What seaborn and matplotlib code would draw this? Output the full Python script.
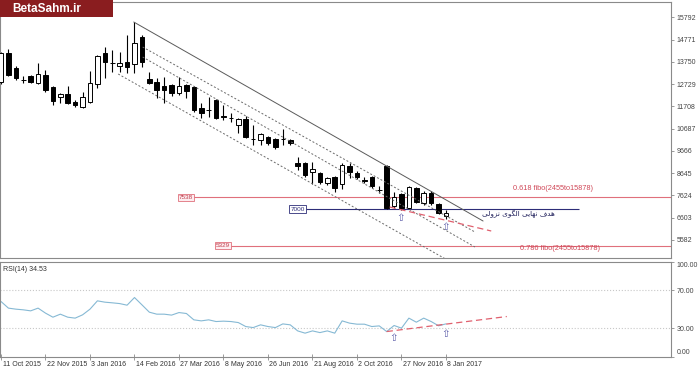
import numpy as np
import pandas as pd
import matplotlib
matplotlib.use("Agg")
import matplotlib.pyplot as plt
import matplotlib.transforms as mtransforms
from matplotlib.patches import Rectangle
import seaborn as sns

sns.set_style("white")
plt.rcParams["font.family"] = ["Liberation Sans", "DejaVu Sans"]

# ---------------- data (weekly bars) ----------------
opens = [12825, 14155, 13467, 12917, 13100, 12779, 13146, 12596, 12138, 12275,
         11908, 11679, 11908, 12734, 14155, 13696, 13559, 13742, 13651, 14889,
         12963, 12825, 12642, 12688, 12321, 12688, 12596, 11633, 11542, 12000,
         11266, 11175, 10854, 11129, 10212, 10166, 10304, 10212, 10212, 10166,
         9111, 9111, 8699, 8653, 8194, 8470, 8149, 8974, 8653, 8332,
         8470, 7874, 8974, 7140, 7690, 7048, 7965, 7277, 7736, 7232, 6681]
highs = [14201, 14338, 13559, 13100, 13146, 13696, 13376, 12642, 12321, 12642,
         12000, 12367, 13330, 14063, 14430, 14293, 14201, 14980, 15576, 14980,
         13284, 13009, 13055, 12734, 13055, 12734, 12642, 11862, 12138, 12046,
         11771, 11404, 11175, 11266, 10854, 10487, 10349, 10258, 10670, 10212,
         9387, 9157, 9157, 8699, 8470, 8515, 9111, 9111, 8745, 8470,
         8515, 8057, 9020, 7782, 7736, 8057, 8011, 7828, 7828, 7277, 6957]
lows = [12734, 13100, 12917, 12779, 12779, 12734, 12367, 11771, 11862, 11817,
        11679, 11633, 11862, 12550, 13009, 13284, 13284, 13238, 13238, 13513,
        12734, 12092, 11862, 12183, 12229, 12092, 11450, 11175, 11221, 11129,
        11083, 10991, 10487, 10258, 9937, 9937, 9937, 9753, 9937, 9937,
        8791, 8470, 8149, 8149, 8103, 7782, 7919, 8424, 8378, 8194,
        7965, 7736, 7002, 7048, 6957, 7002, 7277, 7186, 7186, 6773, 6544]
closes = [14155, 13146, 13009, 12894, 12825, 13192, 12459, 11954, 12275, 11862,
          11771, 12138, 12779, 14017, 13742, 13674, 13696, 13513, 14613, 13742,
          12779, 12459, 12459, 12321, 12642, 12413, 11542, 11404, 11519, 11175,
          11243, 11152, 11129, 10304, 10189, 10441, 10028, 9845, 10189, 10028,
          8974, 8561, 8836, 8240, 8424, 7965, 9020, 8699, 8470, 8309,
          8057, 7851, 7048, 7553, 7048, 8011, 7323, 7736, 7277, 6819, 6819]
rsi = [58.2, 51.2, 50.1, 49.4, 48.3, 51.2, 45.9, 41.6, 44.8, 41.6,
       40.6, 44.1, 50.1, 58.9, 57.5, 56.8, 56.0, 54.3, 62.4, 54.7,
       46.9, 44.8, 44.8, 43.8, 46.5, 45.5, 38.8, 37.7, 38.8, 37.0,
       37.4, 37.0, 35.9, 31.7, 30.6, 33.5, 31.7, 30.6, 34.5, 33.5,
       27.1, 24.7, 27.1, 25.3, 27.1, 24.7, 37.7, 35.3, 34.2, 34.2,
       31.7, 32.4, 26.4, 32.8, 30.0, 40.6, 36.3, 40.6, 37.0, 32.5, 34.53]
date_labels = ["11 Oct 2015", "22 Nov 2015", "3 Jan 2016", "14 Feb 2016",
               "27 Mar 2016", "8 May 2016", "26 Jun 2016", "21 Aug 2016",
               "2 Oct 2016", "27 Nov 2016", "8 Jan 2017"]
date_tick_bars = list(range(0, 61, 6))
price_ticks = [5582, 6603, 7624, 8645, 9666, 10687, 11708, 12729, 13750, 14771, 15792]
rsi_ticks = [0, 30, 70, 100]
rsi_tick_labels = ["0.00", "30.00", "70.00", "100.00"]

# drawn objects (bar index, price)
trend_solid = [(17.9, 15576), (65.0, 6452)]
channel_a = [(19.1, 14430), (63.9, 5948)]
channel_b = [(19.1, 13972), (63.9, 5260)]
channel_c = [(15.8, 13192), (64.0, 3930)]
support_main = [(52.4, 7094), (66.1, 5994)]
support_rsi = [(52.0, 26.4), (68.2, 42.3)]
fib_618, fib_786, target = 7538, 5329, 7000
fib_618_start, fib_786_start = 25.9, 30.9
target_span = (41.0, 77.9)
arrows_main = [(53.9, 6590), (60.0, 6177)]
arrows_rsi = [(52.9, 19.7), (60.0, 24.0)]
target_text = "هدف نهایی الگوی نزولی"

df = pd.DataFrame({"bar": np.arange(len(opens)), "open": opens, "high": highs,
                   "low": lows, "close": closes, "rsi": rsi})

# ---------------- minimal Persian shaping ----------------
forms = {
    "ه": ("\uFEE9", "\uFEEA", "\uFEEB", "\uFEEC"),
    "د": ("\uFEA9", "\uFEAA", None, None),
    "ف": ("\uFED1", "\uFED2", "\uFED3", "\uFED4"),
    "ن": ("\uFEE5", "\uFEE6", "\uFEE7", "\uFEE8"),
    "ا": ("\uFE8D", "\uFE8E", None, None),
    "ی": ("\uFEEF", "\uFEF0", "\uFEF3", "\uFEF4"),
    "ل": ("\uFEDD", "\uFEDE", "\uFEDF", "\uFEE0"),
    "گ": ("\uFB92", "\uFB93", "\uFB94", "\uFB95"),
    "و": ("\uFEED", "\uFEEE", None, None),
    "ز": ("\uFEAF", "\uFEB0", None, None),
}


def shape(word):
    out = []
    for k, ch in enumerate(word):
        f = forms[ch]
        pj = k > 0 and forms[word[k - 1]][2] is not None
        nj = k < len(word) - 1 and f[2] is not None
        if pj and nj:
            out.append(f[3])
        elif pj:
            out.append(f[1])
        elif nj:
            out.append(f[2])
        else:
            out.append(f[0])
    return "".join(reversed(out))


visual_text = " ".join(shape(w) for w in reversed(target_text.split()))

# ---------------- figure ----------------
W, H = 700, 369
fig = plt.figure(figsize=(W / 100, H / 100), dpi=100)
fig.patch.set_facecolor("white")


def px_axes(x0, y0, x1, y1):
    return fig.add_axes([x0 / W, 1 - y1 / H, (x1 - x0) / W, (y1 - y0) / H])


ax = px_axes(0, 2, 671, 258)
axr = px_axes(0, 262, 671, 356.5)

XMIN, XMAX = -0.135, 90.34
spine_c = "#8a8a8a"
for a in (ax, axr):
    a.set_xlim(XMIN, XMAX)
    a.set_facecolor("white")
    for s in a.spines.values():
        s.set_color(spine_c)
        s.set_linewidth(0.8)
        s.set_visible(True)

ax.set_ylim(4756, 16493)

# candles
bull = df["close"] >= df["open"]
ax.vlines(df["bar"], df["low"], df["high"], color="black", linewidth=0.8, zorder=2)
body_bottom = np.minimum(df["open"], df["close"])
body_h = np.maximum(np.abs(df["close"] - df["open"]), 12)
ax.bar(df["bar"], body_h, bottom=body_bottom, width=0.62,
       color=np.where(bull, "white", "black"), edgecolor="black",
       linewidth=0.7, zorder=3)

# trend / channel lines
def seg(a, pts, **kw):
    (x0, y0), (x1, y1) = pts
    a.plot([x0, x1], [y0, y1], **kw)

seg(ax, trend_solid, color="#5a5a5a", linewidth=0.7, zorder=4)
for ch in (channel_a, channel_b, channel_c):
    seg(ax, ch, color="#6a6a6a", linewidth=0.7, linestyle=(0, (2, 2)), zorder=4)
seg(ax, support_main, color="#e0606e", linewidth=0.9, linestyle=(0, (5, 3)), zorder=4)

# fib / target lines
fib_c = "#e0707c"
ax.hlines(fib_618, fib_618_start, XMAX, color=fib_c, linewidth=0.8, zorder=1)
ax.hlines(fib_786, fib_786_start, XMAX, color=fib_c, linewidth=0.8, zorder=1)
ax.hlines(target, target_span[0], target_span[1], color="#2d2d78", linewidth=0.8, zorder=1)
box_kw = dict(ha="right", va="center", fontsize=4.6)
ax.text(fib_618_start, fib_618, str(fib_618), color="#c0404e",
        bbox=dict(boxstyle="square,pad=0.2", fc="#fdecef", ec=fib_c, lw=0.6), **box_kw)
ax.text(fib_786_start, fib_786, str(fib_786), color="#c0404e",
        bbox=dict(boxstyle="square,pad=0.2", fc="#fdecef", ec=fib_c, lw=0.6), **box_kw)
ax.text(target_span[0], target, str(target), color="#2d2d78",
        bbox=dict(boxstyle="square,pad=0.2", fc="white", ec="#2d2d78", lw=0.6), **box_kw)
ax.text(74.4, 7920, "0.618 fibo(2455to15878)", color="#d04858", fontsize=5.3,
        ha="center", va="center")
ax.text(75.4, 5214, "0.786 fibo(2455to15878)", color="#d04858", fontsize=5.3,
        ha="center", va="center")
ax.text(69.8, 6773, visual_text, color="#1e1e5a", fontsize=5.2, ha="center",
        va="center", family=["DejaVu Sans"])

for (bx, by) in arrows_main:
    ax.text(bx, by, "\u21e7", color="#5a5aa8", fontsize=7.5, ha="center",
            va="center", family=["DejaVu Sans"], zorder=5)

ax.yaxis.tick_right()
ax.set_yticks(price_ticks)
ax.set_yticklabels([str(v) for v in price_ticks])
ax.tick_params(axis="y", direction="out", length=2.5, width=0.6, color=spine_c,
               labelsize=5, labelcolor="#444444", pad=1.5, right=True, left=False)
ax.tick_params(axis="x", bottom=False, labelbottom=False)
ax.set_xlabel("")
ax.set_ylabel("")

# ---------------- RSI panel ----------------
sns.lineplot(data=df, x="bar", y="rsi", ax=axr, color="#86b9d4", linewidth=0.8)
axr.set_xlim(XMIN, XMAX)
axr.set_ylim(0, 100)
for lvl in (30, 70):
    axr.axhline(lvl, color="#c8c8c8", linewidth=0.8, linestyle=":", zorder=0)
seg(axr, support_rsi, color="#e0606e", linewidth=0.9, linestyle=(0, (5, 3)), zorder=4)
for (bx, by) in arrows_rsi:
    axr.text(bx, by, "\u21e7", color="#5a5aa8", fontsize=7.5, ha="center",
             va="center", family=["DejaVu Sans"], zorder=5)
axr.text(0.004, 0.925, f"RSI(14) {rsi[-1]:.2f}", transform=axr.transAxes,
         fontsize=5, color="#333333", ha="left", va="center")

axr.yaxis.tick_right()
axr.set_yticks(rsi_ticks)
axr.set_yticklabels(rsi_tick_labels)
axr.tick_params(axis="y", direction="out", length=2.5, width=0.6, color=spine_c,
                labelsize=5, labelcolor="#444444", pad=1.5, right=True, left=False)
labs = axr.get_yticklabels()
labs[0].set_va("bottom")
labs[-1].set_va("top")

axr.set_xticks(date_tick_bars)
axr.set_xticklabels(date_labels)
axr.tick_params(axis="x", direction="inout", length=4, width=0.6, color=spine_c,
                labelsize=5, labelcolor="#333333", pad=1.5, bottom=True)
off = mtransforms.ScaledTranslation(1.5 / 100, 0, fig.dpi_scale_trans)
for lab in axr.get_xticklabels():
    lab.set_ha("left")
    lab.set_transform(lab.get_transform() + off)
axr.set_xlabel("")
axr.set_ylabel("")

# ---------------- logo ----------------
fig.add_artist(Rectangle((0, 1 - 17 / H), 113 / W, 17 / H, transform=fig.transFigure,
                         facecolor="#8a1d1f", edgecolor="none", zorder=10))
fig.text(12 / W, 1 - 8.5 / H, "BetaSahm.ir", color="white", fontsize=8.5,
         fontweight="bold", ha="left", va="center", zorder=11)

fig.savefig("out.png", dpi=100, facecolor="white")
